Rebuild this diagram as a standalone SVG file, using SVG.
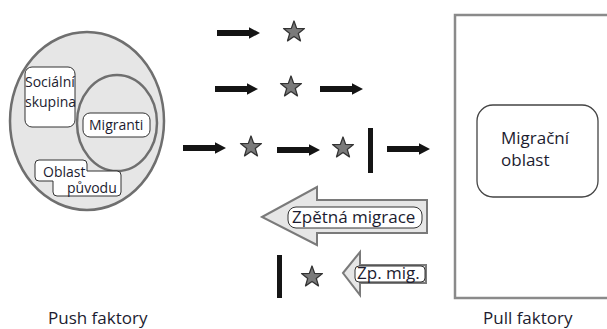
<svg xmlns="http://www.w3.org/2000/svg" xmlns:xlink="http://www.w3.org/1999/xlink" width="607" height="329" viewBox="0 0 607 329">
  <style>
    .t { font-family: "Open Sans", "Noto Sans", sans-serif; fill: #1c1c30; }
    .s14 { font-size: 14px; }
    .s17 { font-size: 17px; }
    .label { fill: #ffffff; stroke: #333333; stroke-width: 1; }
    .hollow { fill: #e6e6e6; stroke: #7a7a7a; stroke-width: 2; stroke-linejoin: miter; }
    .bar { fill: #151515; }
  </style>
  <defs>
    <path id="star" d="M0,-11 L2.65,-3.64 L10.46,-3.4 L4.28,1.39 L6.47,8.9 L0,4.5 L-6.47,8.9 L-4.28,1.39 L-10.46,-3.4 L-2.65,-3.64 Z" fill="#7a7a7a" stroke="#333333" stroke-width="1.3" stroke-linejoin="round"/>
    <path id="arrow" d="M0,-3 H32 V-5.8 L43,0 L32,5.8 V3 H0 Z" fill="#141414"/>
  </defs>

  <!-- origin area -->
  <g id="push-area">
    <ellipse cx="87" cy="121" rx="77" ry="89" fill="#e6e6e6" stroke="#6f6f6f" stroke-width="2.5"/>
    <ellipse cx="117" cy="123" rx="40" ry="48" fill="#e6e6e6" stroke="#6f6f6f" stroke-width="2.5"/>
  </g>
  <g id="socialni-skupina">
    <rect x="25" y="67" width="50" height="60" rx="7" class="label"/>
    <text class="t s14" x="25" y="87">Sociální</text>
    <text class="t s14" x="25" y="107">skupina</text>
  </g>
  <g id="migranti">
    <rect x="83" y="113" width="67" height="24" rx="7" class="label"/>
    <text class="t s14" x="89" y="130">Migranti</text>
  </g>
  <g id="oblast-puvodu">
    <path d="M39,160 H83 Q87,160 87,164 V171 H117 Q121,171 121,175 V192 Q121,196 117,196 H57 Q53,196 53,192 V181 H39 Q35,181 35,177 V164 Q35,160 39,160 Z" class="label"/>
    <text class="t s14" x="43" y="177">Oblast</text>
    <text class="t s14" x="67" y="193">původu</text>
  </g>

  <!-- destination area -->
  <g id="pull-area">
    <rect x="455" y="15" width="160" height="283" fill="#ffffff" stroke="#8a8a8a" stroke-width="2.5"/>
  </g>
  <g id="migracni-oblast">
    <rect x="477" y="105" width="121" height="92" rx="16" fill="#ffffff" stroke="#444444" stroke-width="1.3"/>
    <text class="t s17" x="501" y="144">Migrační</text>
    <text class="t s17" x="501" y="166">oblast</text>
  </g>

  <!-- flows, stops and barriers -->
  <g id="connectors">
    <use xlink:href="#arrow" x="217" y="33"/>
    <use xlink:href="#arrow" x="215" y="89"/>
    <use xlink:href="#arrow" x="320" y="89"/>
    <use xlink:href="#arrow" x="183" y="148"/>
    <use xlink:href="#arrow" x="277" y="150"/>
    <use xlink:href="#arrow" x="387" y="149"/>

    <use xlink:href="#star" x="294" y="32"/>
    <use xlink:href="#star" x="291" y="87"/>
    <use xlink:href="#star" x="251" y="147"/>
    <use xlink:href="#star" x="343" y="148"/>
    <use xlink:href="#star" x="312" y="277"/>

    <rect class="bar" x="368" y="128" width="5" height="45"/>
    <rect class="bar" x="277" y="255" width="5" height="43"/>

    <g id="zpetna-migrace">
      <path class="hollow" d="M262,217 L317,187 V200 H427 V233 H317 V245 Z"/>
      <rect x="288" y="207" width="134" height="21" rx="8" class="label"/>
      <text class="t s17" x="292" y="223">Zpětná migrace</text>
    </g>
    <g id="zp-mig">
      <path class="hollow" d="M343,273 L360,252 V265 H426 V283 H360 V295 Z"/>
      <rect x="355" y="266" width="70" height="16" rx="4" class="label"/>
      <text class="t s17" x="357" y="279">Zp. mig.</text>
    </g>
  </g>

  <!-- captions -->
  <text class="t s17" x="48" y="324">Push faktory</text>
  <text class="t s17" x="483" y="324">Pull faktory</text>
</svg>
